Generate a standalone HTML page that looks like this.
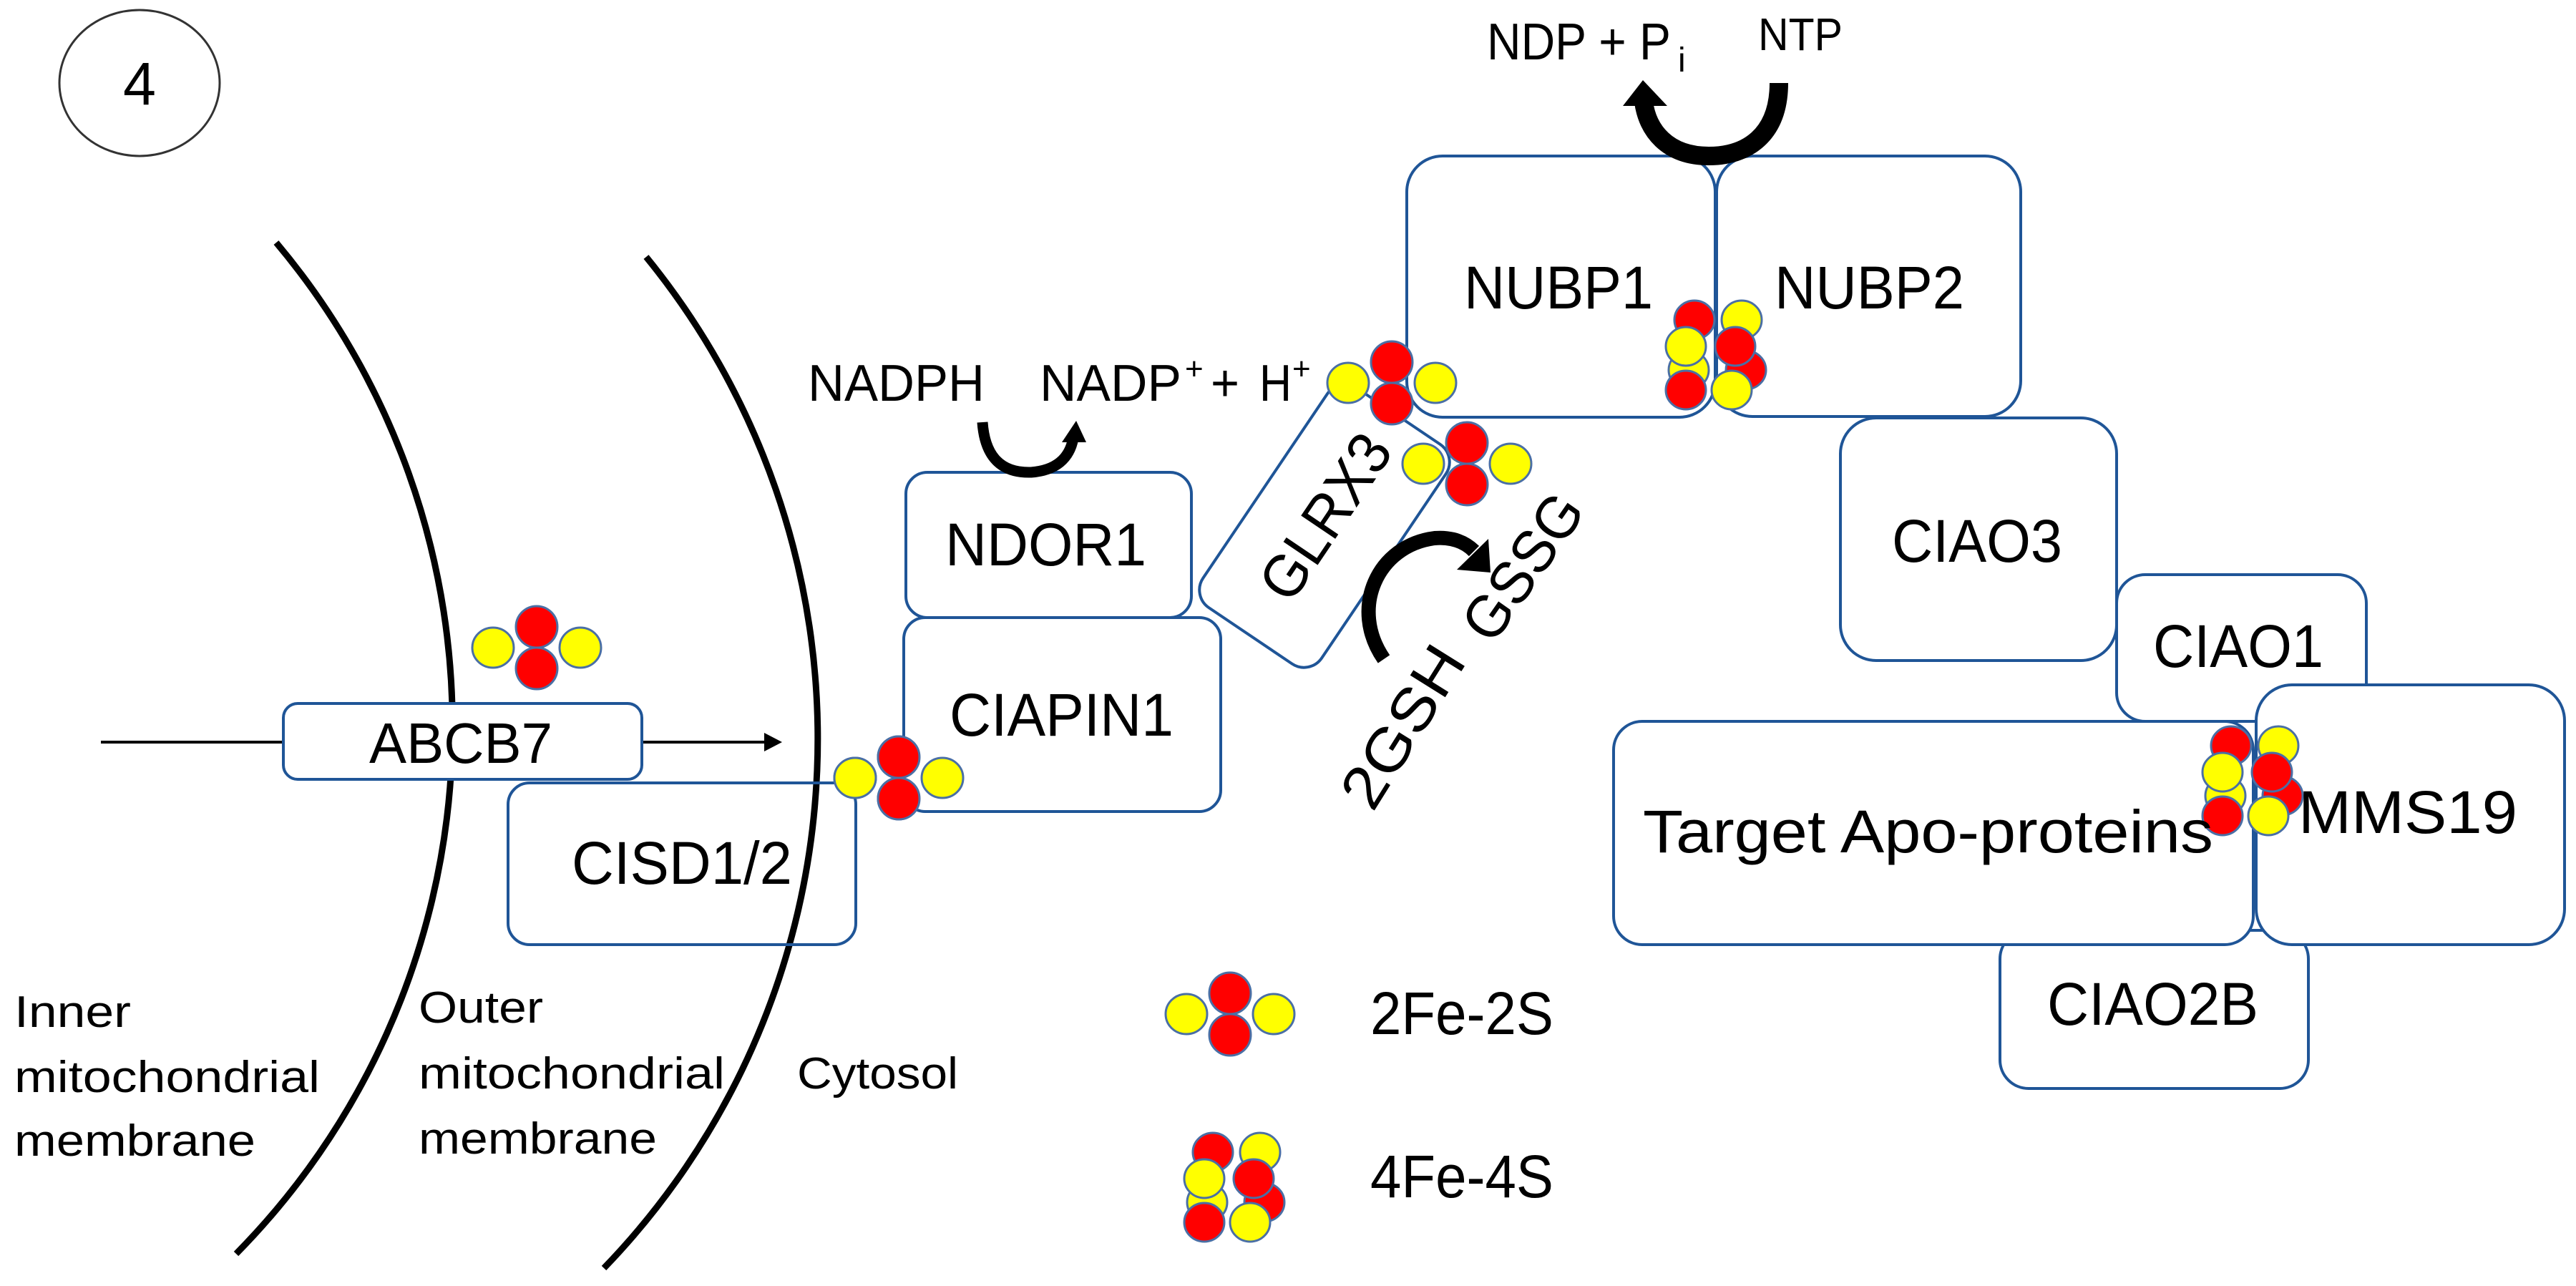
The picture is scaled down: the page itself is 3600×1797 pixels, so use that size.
<!DOCTYPE html>
<html><head><meta charset="utf-8"><style>html,body{margin:0;padding:0;background:#fff}svg{display:block}</style></head>
<body>
<svg width="3600" height="1797" viewBox="0 0 3600 1797" xmlns="http://www.w3.org/2000/svg" font-family="'Liberation Sans', sans-serif" fill="#000">
<defs>
<g id="c2">
<ellipse cx="-61" cy="0" rx="29" ry="28" fill="#ffff00" stroke="#4a6fa5" stroke-width="3"/>
<ellipse cx="61" cy="0" rx="29" ry="28" fill="#ffff00" stroke="#4a6fa5" stroke-width="3"/>
<ellipse cx="0" cy="-29" rx="29" ry="29" fill="#ff0000" stroke="#4a6fa5" stroke-width="3"/>
<ellipse cx="0" cy="29" rx="29" ry="29" fill="#ff0000" stroke="#4a6fa5" stroke-width="3"/>
</g>
<g id="c4" stroke="#4a6fa5" stroke-width="3">
<ellipse cx="-35" cy="20" rx="28" ry="27" fill="#ffff00"/>
<ellipse cx="45" cy="20" rx="28" ry="27" fill="#ff0000"/>
<ellipse cx="-27" cy="-50" rx="28" ry="27" fill="#ff0000"/>
<ellipse cx="39" cy="-50" rx="28" ry="27" fill="#ffff00"/>
<ellipse cx="-39" cy="-13" rx="28" ry="27" fill="#ffff00"/>
<ellipse cx="30" cy="-13" rx="28" ry="27" fill="#ff0000"/>
<ellipse cx="-39" cy="48" rx="28" ry="27" fill="#ff0000"/>
<ellipse cx="25" cy="48" rx="28" ry="27" fill="#ffff00"/>
</g>
</defs>

<!-- circle 4 -->
<ellipse cx="195" cy="116" rx="112" ry="102" fill="none" stroke="#333" stroke-width="3"/>
<text x="172" y="146" font-size="84" textLength="46" lengthAdjust="spacingAndGlyphs">4</text>

<!-- membranes -->
<path d="M386,339 A1050,1050 0 0 1 330,1752" fill="none" stroke="#000" stroke-width="9"/>
<path d="M903,359 A1065,1065 0 0 1 844,1772" fill="none" stroke="#000" stroke-width="9"/>

<!-- ABCB7 line -->
<line x1="141" y1="1037" x2="400" y2="1037" stroke="#000" stroke-width="4"/>
<line x1="895" y1="1037" x2="1072" y2="1037" stroke="#000" stroke-width="4"/>
<polygon points="1068,1024 1093,1037 1068,1050" fill="#000"/>

<g fill="#fff" stroke="#1f5597" stroke-width="4">
<rect x="396" y="983" width="501" height="106" rx="20"/>
<rect x="710" y="1094" width="486" height="226" rx="30" fill="none"/>
</g>
<!-- CISD box fill under outer membrane: redraw membrane portion over -->
<use href="#c2" x="750" y="905"/>
<use href="#c2" x="1256" y="1087"/>

<!-- NDOR1, CIAPIN1 -->
<g fill="#fff" stroke="#1f5597" stroke-width="4">
<rect x="1266" y="660" width="399" height="203" rx="30"/>
<rect x="1263" y="863" width="443" height="271" rx="30"/>
<rect x="-185" y="-100" width="370" height="200" rx="30" transform="translate(1851,735) rotate(-56)"/>
</g>
<use href="#c2" x="1256" y="1087"/>

<!-- NUBP boxes -->
<g fill="#fff" stroke="#1f5597" stroke-width="4">
<rect x="1966" y="218" width="431" height="365" rx="50"/>
<rect x="2399" y="218" width="425" height="364" rx="50"/>
<rect x="2572" y="584" width="386" height="339" rx="50"/>
<rect x="2958" y="803" width="349" height="205" rx="40"/>
<rect x="2795" y="1300" width="431" height="221" rx="40"/>
<rect x="2255" y="1008" width="894" height="312" rx="40"/>
<rect x="3153" y="957" width="431" height="363" rx="50"/>
</g>

<use href="#c2" x="1945" y="535"/>
<use href="#c2" x="2050" y="648"/>
<use href="#c4" x="2395" y="497"/>
<use href="#c4" x="3145" y="1092"/>
<use href="#c2" x="1719" y="1417"/>
<use href="#c4" x="1722" y="1660"/>

<!-- curved arrows -->
<path d="M1373,590 Q1378,662 1441,660 Q1492,656 1500,612" fill="none" stroke="#000" stroke-width="15"/>
<polygon points="1484,618 1518,618 1504,588" fill="#000"/>
<path d="M2486,116 C2486,190 2440,218 2388,218 C2330,218 2302,182 2297,142" fill="none" stroke="#000" stroke-width="26"/>
<polygon points="2268,148 2330,148 2296,112" fill="#000"/>
<path d="M1934,921 C1885,850 1925,762 2005,752 C2030,750 2048,758 2060,770" fill="none" stroke="#000" stroke-width="20"/>
<polygon points="2036,796 2080,753 2083,800" fill="#000"/>

<!-- texts -->
<g font-size="84" lengthAdjust="spacingAndGlyphs">
<text x="516" y="1066" font-size="80" textLength="256" lengthAdjust="spacingAndGlyphs">ABCB7</text>
<text x="799" y="1235" textLength="308" lengthAdjust="spacingAndGlyphs">CISD1/2</text>
<text x="1321" y="790" textLength="281" lengthAdjust="spacingAndGlyphs">NDOR1</text>
<text x="1327" y="1028" textLength="313" lengthAdjust="spacingAndGlyphs">CIAPIN1</text>
<text x="2046" y="431" textLength="264" lengthAdjust="spacingAndGlyphs">NUBP1</text>
<text x="2480" y="431" textLength="265" lengthAdjust="spacingAndGlyphs">NUBP2</text>
<text x="2644" y="785" textLength="238" lengthAdjust="spacingAndGlyphs">CIAO3</text>
<text x="3009" y="932" textLength="238" lengthAdjust="spacingAndGlyphs">CIAO1</text>
<text x="2296" y="1191" textLength="797" lengthAdjust="spacingAndGlyphs">Target Apo-proteins</text>
<text x="3212" y="1164" textLength="306" lengthAdjust="spacingAndGlyphs">MMS19</text>
<text x="2861" y="1432" textLength="295" lengthAdjust="spacingAndGlyphs">CIAO2B</text>
<text x="1915" y="1445" textLength="256" lengthAdjust="spacingAndGlyphs">2Fe-2S</text>
<text x="1915" y="1673" textLength="256" lengthAdjust="spacingAndGlyphs">4Fe-4S</text>
<text x="0" y="0" text-anchor="middle" dominant-baseline="central" textLength="260" lengthAdjust="spacingAndGlyphs" transform="translate(1852,722) rotate(-56)">GLRX3</text>
<text x="0" y="0" text-anchor="middle" dominant-baseline="central" textLength="230" lengthAdjust="spacingAndGlyphs" transform="translate(2128,792) rotate(-55)">GSSG</text>
<text x="0" y="0" text-anchor="middle" dominant-baseline="central" textLength="250" lengthAdjust="spacingAndGlyphs" transform="translate(1960,1015) rotate(-58)">2GSH</text>
</g>
<g font-size="72">
<text x="1129" y="560" textLength="247" lengthAdjust="spacingAndGlyphs">NADPH</text>
<text x="1453" y="560" textLength="198" lengthAdjust="spacingAndGlyphs">NADP</text>
<text x="1656" y="530" font-size="44">+</text>
<text x="1692" y="560" textLength="40" lengthAdjust="spacingAndGlyphs">+</text>
<text x="1760" y="560" textLength="45" lengthAdjust="spacingAndGlyphs">H</text>
<text x="1806" y="530" font-size="44">+</text>
<text x="2078" y="83" textLength="257" lengthAdjust="spacingAndGlyphs">NDP + P</text>
<text x="2345" y="100" font-size="48">i</text>
<text x="2457" y="70" font-size="64" textLength="118" lengthAdjust="spacingAndGlyphs">NTP</text>
</g>
<g font-size="62">
<text x="20" y="1435" textLength="163" lengthAdjust="spacingAndGlyphs">Inner</text>
<text x="20" y="1526" textLength="427" lengthAdjust="spacingAndGlyphs">mitochondrial</text>
<text x="20" y="1615" textLength="337" lengthAdjust="spacingAndGlyphs">membrane</text>
<text x="585" y="1429" textLength="174" lengthAdjust="spacingAndGlyphs">Outer</text>
<text x="585" y="1521" textLength="428" lengthAdjust="spacingAndGlyphs">mitochondrial</text>
<text x="585" y="1612" textLength="333" lengthAdjust="spacingAndGlyphs">membrane</text>
<text x="1114" y="1521" textLength="225" lengthAdjust="spacingAndGlyphs">Cytosol</text>
</g>
</svg>
</body></html>
